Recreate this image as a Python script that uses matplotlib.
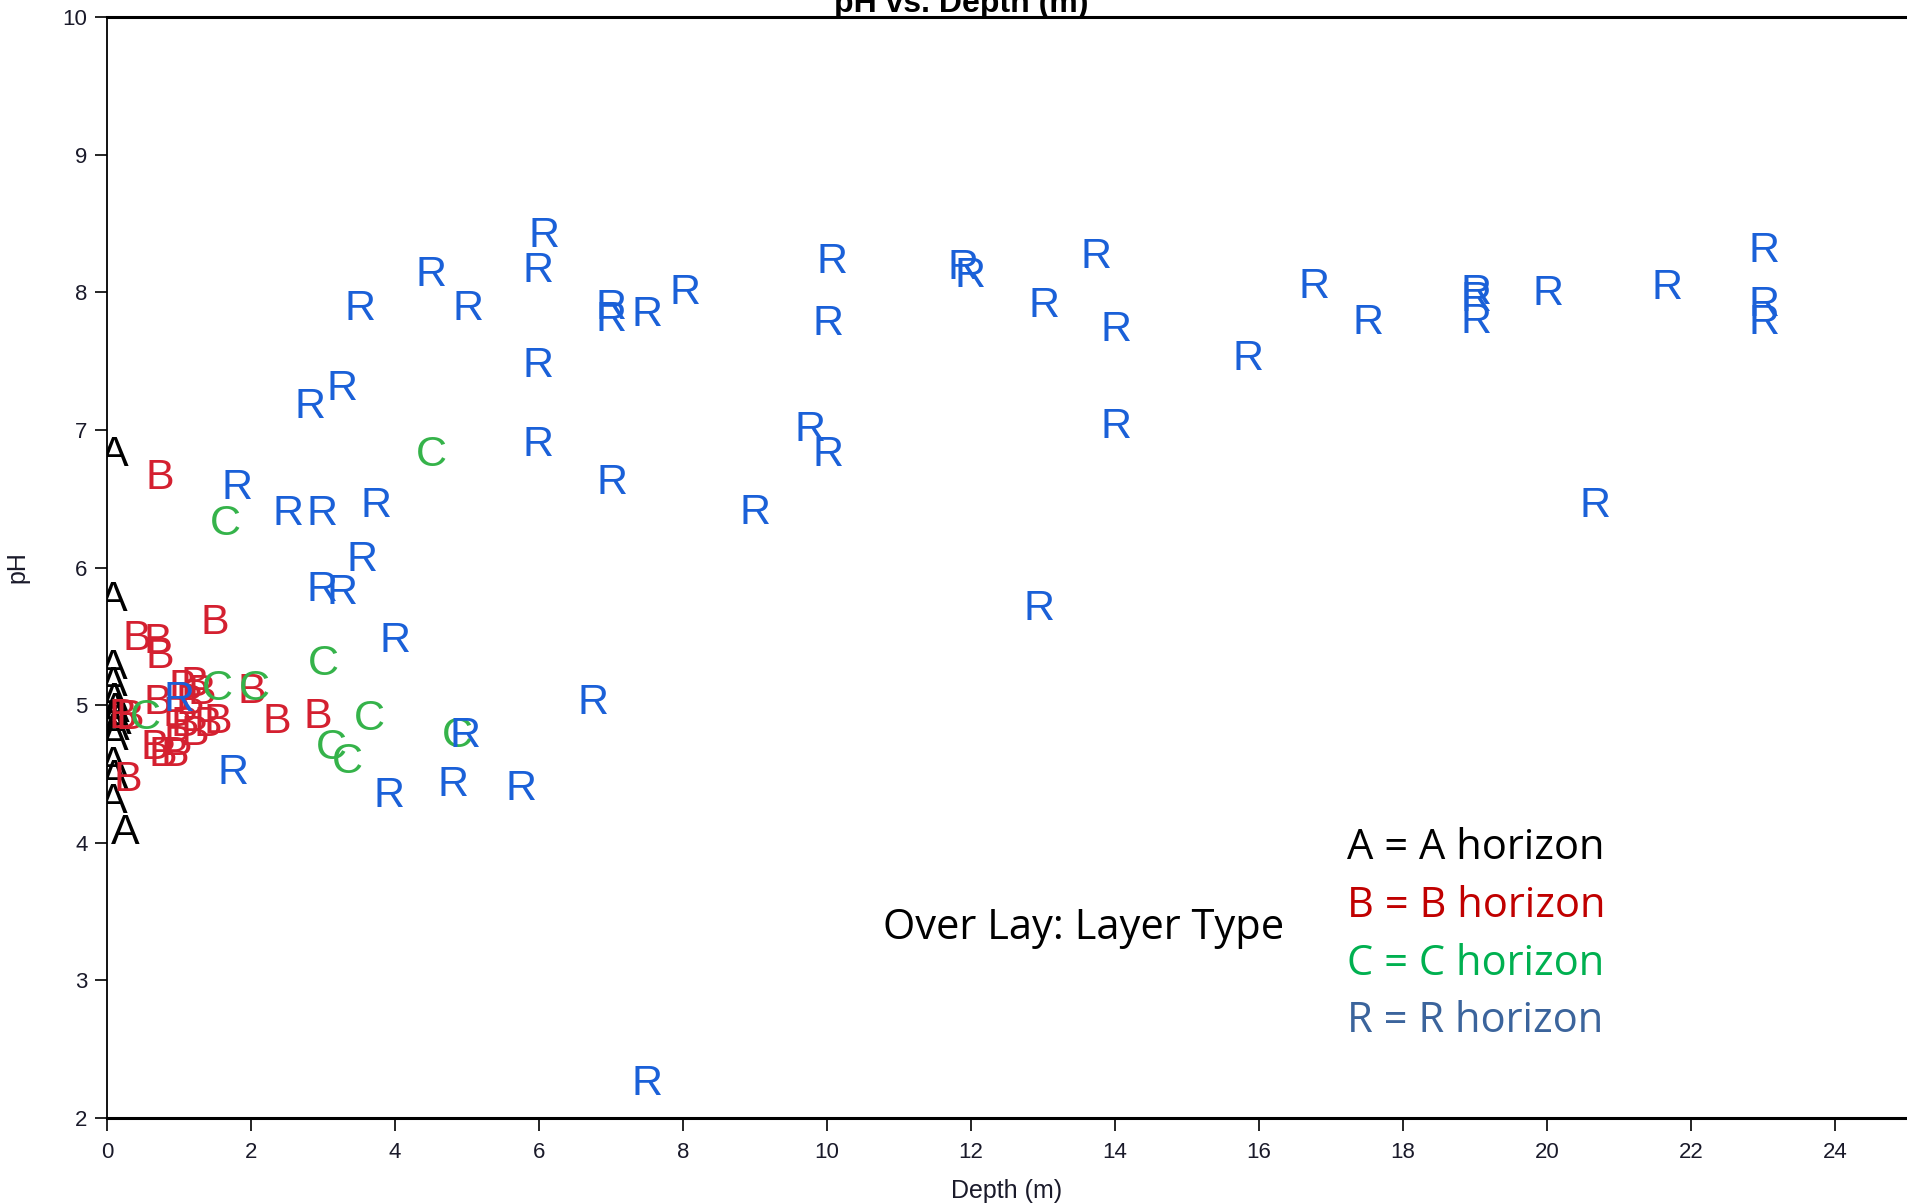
import matplotlib
matplotlib.use("Agg")
import matplotlib.pyplot as plt

# A horizon
a_depth = [0.10, 0.08, 0.08, 0.08, 0.10, 0.12, 0.12, 0.14, 0.12, 0.10, 0.08, 0.10, 0.08, 0.25]
a_ph = [6.85, 5.80, 5.30, 5.18, 5.06, 4.99, 4.95, 4.90, 4.86, 4.79, 4.60, 4.50, 4.33, 4.10]

# B horizon
b_depth = [0.73, 1.50, 0.42, 0.71, 0.74, 1.05, 1.22, 1.32, 0.71, 1.15, 2.01, 2.36, 2.93,
           0.22, 0.32, 0.97, 1.08, 1.22, 1.40, 1.54, 0.98, 0.67, 0.78, 0.94, 0.29]
b_ph = [6.68, 5.63, 5.51, 5.49, 5.38, 5.16, 5.18, 5.12, 5.05, 5.05, 5.13, 4.91, 4.95,
        4.95, 4.94, 4.96, 4.89, 4.82, 4.89, 4.91, 4.75, 4.72, 4.67, 4.67, 4.49]

# C horizon
c_depth = [0.53, 1.53, 2.05, 3.00, 3.65, 3.12, 3.34, 1.65, 4.50, 4.87]
c_ph = [4.94, 5.15, 5.15, 5.33, 4.93, 4.72, 4.62, 6.35, 6.85, 4.81]

# R horizon
r_depth = [6.07, 4.50, 5.99, 3.51, 5.01, 7.00, 7.00, 7.50, 8.03, 5.99, 2.82, 3.27,
           5.99, 7.02, 1.80, 2.51, 2.98, 3.74, 3.54, 2.98, 3.27, 4.00, 1.00, 1.75,
           3.91, 4.81, 5.75, 6.75, 7.50, 4.97, 9.00, 9.76, 10.02, 10.07, 10.02, 11.89,
           11.99, 13.02, 12.95, 13.74, 14.01, 14.01, 15.85, 16.76, 17.52, 19.02, 19.02,
           19.02, 20.02, 20.66, 21.67, 23.02, 23.02, 23.02]
r_ph = [8.44, 8.16, 8.19, 7.91, 7.91, 7.92, 7.83, 7.87, 8.03, 7.50, 7.20, 7.33,
        6.92, 6.65, 6.61, 6.42, 6.42, 6.48, 6.09, 5.87, 5.85, 5.50, 5.07, 4.54,
        4.37, 4.45, 4.42, 5.05, 2.28, 4.81, 6.43, 7.03, 6.85, 8.25, 7.80, 8.21,
        8.15, 7.93, 5.73, 8.29, 7.76, 7.05, 7.55, 8.07, 7.81, 8.03, 7.98,
        7.82, 8.02, 6.48, 8.06, 8.33, 7.94, 7.81]

x_ticks = list(range(0, 25, 2))
y_ticks = list(range(2, 11))

legend_lines = ["A = A horizon", "B = B horizon", "C = C horizon", "R = R horizon"]
legend_colors = ["#000000", "#c00000", "#00b050", "#3b649c"]

marker_font = "Liberation Sans"
axis_font = "Liberation Sans"
tick_color = "#1a1a2a"

fig = plt.figure(figsize=(19.07, 12.04), dpi=100)
ax = fig.add_axes([107 / 1907, 86 / 1204, 1 - 107 / 1907, 1101 / 1204])
ax.set_xlim(0, 25)
ax.set_ylim(2, 10)

series = [
    ("A", a_depth, a_ph, "#000000"),
    ("B", b_depth, b_ph, "#d42030"),
    ("C", c_depth, c_ph, "#35b34a"),
    ("R", r_depth, r_ph, "#1a60d8"),
]
for letter, xs, ys, col in series:
    for x, y in zip(xs, ys):
        ax.text(x, y, letter, color=col, fontsize=31, family=marker_font,
                ha="center", va="center_baseline", clip_on=True)

ax.spines["right"].set_visible(False)
ax.spines["top"].set_linewidth(2.2)
ax.spines["bottom"].set_linewidth(2.2)
ax.spines["left"].set_linewidth(1.3)

ax.set_xticks(x_ticks)
ax.set_yticks(y_ticks)
ax.tick_params(direction="out", length=9, width=1.2, labelsize=16,
               labelcolor=tick_color, pad=5)
ax.tick_params(axis="x", pad=8)
for lab in ax.get_xticklabels() + ax.get_yticklabels():
    lab.set_family(axis_font)

ax.set_xlabel("Depth (m)", fontsize=18, family=axis_font, color=tick_color, labelpad=12)
ax.set_ylabel("pH", fontsize=18, family=axis_font, color=tick_color, labelpad=24)

fig.text(961 / 1907, 1 - 12 / 1204, "pH vs. Depth (m)", fontsize=23, fontweight="bold",
         family=axis_font, ha="center", va="baseline")

# overlay key
fig.text(883 / 1907, 1 - 939 / 1204, "Over Lay: Layer Type", fontsize=30,
         family="Open Sans", color="black", ha="left", va="baseline")
baselines = [859, 917, 975, 1032]
for txt, col, yb in zip(legend_lines, legend_colors, baselines):
    fig.text(1347 / 1907, 1 - yb / 1204, txt, fontsize=30, family="Open Sans",
             color=col, ha="left", va="baseline")

fig.savefig("out.png", dpi=100)
